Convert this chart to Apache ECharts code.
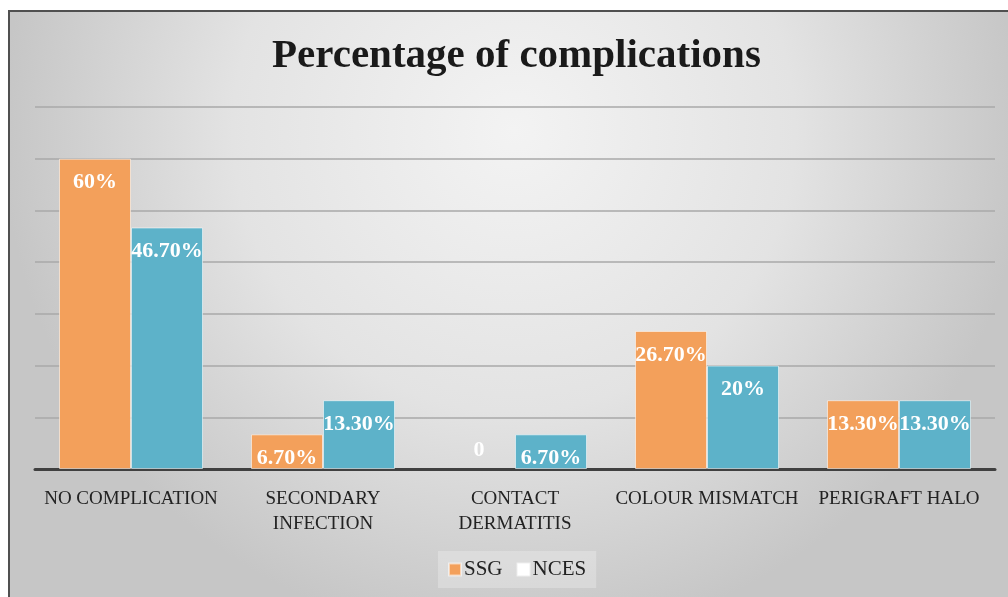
<!DOCTYPE html>
<html>
<head>
<meta charset="utf-8">
<script src="https://cdn.jsdelivr.net/npm/echarts@6/dist/echarts.min.js"></script>
<style>
html,body{margin:0;padding:0;background:#fff;}
#chart{width:1008px;height:597px;}
</style>
</head>
<body>
<div id="chart"></div>
<script>
const categories = ['NO COMPLICATION', 'SECONDARY\nINFECTION', 'CONTACT\nDERMATITIS', 'COLOUR MISMATCH', 'PERIGRAFT HALO'];
const ssgValues = [60, 6.7, 0, 26.7, 13.3];
const ssgLabels = ['60%', '6.70%', '0', '26.70%', '13.30%'];
const ncesValues = [46.7, 13.3, 6.7, 20, 13.3];
const ncesLabels = ['46.70%', '13.30%', '6.70%', '20%', '13.30%'];

const FONT = 'Liberation Serif';
const chart = echarts.init(document.getElementById('chart'));

function buildData(values, labels) {
  return values.map((v, i) => {
    const item = { value: v };
    if (v === 0) {
      item.label = { position: 'top', distance: 8 };
      item.itemStyle = { borderWidth: 0 };
    }
    return item;
  });
}

const labelCfg = (labels) => ({
  show: true,
  position: 'insideTop',
  distance: 13,
  color: '#fff',
  fontFamily: FONT,
  fontWeight: 'bold',
  fontSize: 22,
  formatter: (p) => labels[p.dataIndex]
});

chart.setOption({
  backgroundColor: '#fff',
  animation: false,
  graphic: [{
    type: 'rect',
    z: -100,
    shape: { x: 9, y: 11, width: 1010, height: 600 },
    style: {
      fill: new echarts.graphic.RadialGradient(0.5, 0.2, 0.85, [
        { offset: 0, color: '#f3f3f3' },
        { offset: 0.55, color: '#e3e3e3' },
        { offset: 1, color: '#c6c6c6' }
      ]),
      stroke: '#505050',
      lineWidth: 2
    }
  }],
  title: {
    text: 'Percentage of complications',
    left: 267,
    top: 31,
    textStyle: { fontFamily: FONT, fontWeight: 'bold', fontSize: 41, color: '#1a1a1a' }
  },
  legend: {
    left: 438,
    top: 551,
    icon: 'rect',
    itemWidth: 12,
    itemHeight: 12,
    itemGap: 14,
    padding: [8, 10],
    backgroundColor: 'rgba(255,255,255,0.25)',
    textStyle: { fontFamily: FONT, fontSize: 21, color: '#222', padding: [0, 0, 0, -2] },
    data: [
      { name: 'SSG' },
      { name: 'NCES', itemStyle: { color: '#ffffff' } }
    ]
  },
  grid: { left: 35, right: 13, top: 107, bottom: 128, containLabel: false },
  xAxis: {
    type: 'category',
    data: categories,
    axisLine: { lineStyle: { color: '#404040', width: 3 } },
    axisTick: { show: false },
    axisLabel: { fontFamily: FONT, fontSize: 19, color: '#222', margin: 18, lineHeight: 25, interval: 0 }
  },
  yAxis: {
    type: 'value',
    min: 0, max: 70, interval: 10,
    axisLabel: { show: false },
    axisLine: { show: false },
    axisTick: { show: false },
    splitLine: { lineStyle: { color: '#a8a8a8', width: 1.5 } }
  },
  series: [
    {
      name: 'SSG', type: 'bar', barWidth: 72, barGap: '0%',
      itemStyle: { color: '#F3A05B', borderColor: 'rgba(255,255,255,0.55)', borderWidth: 1 },
      label: labelCfg(ssgLabels),
      data: buildData(ssgValues, ssgLabels)
    },
    {
      name: 'NCES', type: 'bar', barWidth: 72, barGap: '0%',
      itemStyle: { color: '#5DB2C9', borderColor: 'rgba(255,255,255,0.55)', borderWidth: 1 },
      label: labelCfg(ncesLabels),
      data: buildData(ncesValues, ncesLabels)
    }
  ]
});
</script>
</body>
</html>
